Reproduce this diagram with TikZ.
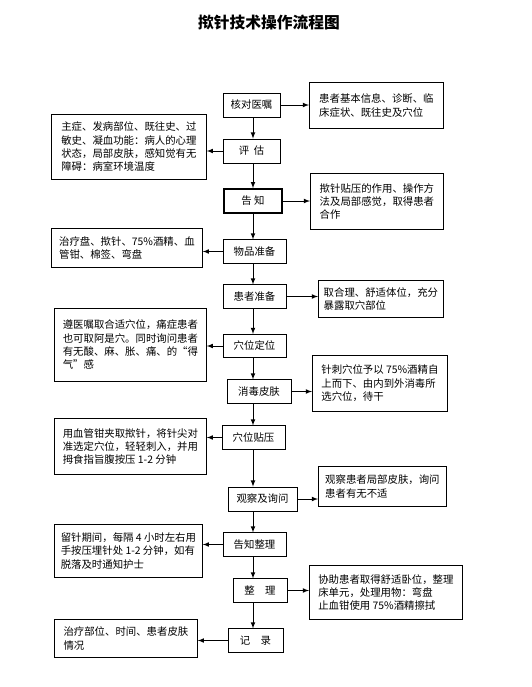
\documentclass[tikz,border=0pt]{standalone}
\usepackage{fontspec}
\newfontfamily\cjk{Noto Sans CJK SC}
\usepackage{tikz}
\usetikzlibrary{arrows, positioning}

\begin{document}
\begin{tikzpicture}[x=0.75pt, y=-0.75pt,
        font=\cjk\fontsize{7.8}{10}\selectfont,
        stepbox/.style={draw, line width=0.6pt, inner sep=0pt, minimum height=17.5pt, align=center},
        notebox/.style={draw, line width=0.6pt, inner xsep=4pt, inner ysep=3pt, anchor=north west, align=left},
        arr/.style={-latex, line width=0.6pt}]
        \useasboundingbox (0,0) rectangle (532,687);

        % Title
        \node[font=\cjk\bfseries\fontsize{11.8}{14}\selectfont] (title) at (269,23) {揿针技术操作流程图};

        % Main steps
        \coordinate (spine) at (253,0);
        \node[stepbox, minimum width=42.75pt, minimum height=18pt] (hedui) at (251.5,105) {核对医嘱};
        \node[stepbox, minimum width=42.75pt, minimum height=18pt] (pinggu) at (251.5,151) {评\ \ 估};
        \node[stepbox, minimum width=43.5pt, minimum height=18pt, line width=1.3pt] (gaozhi) at (253,201) {告\ 知};
        \node[stepbox, minimum width=47.25pt] (wupin) at (254.5,251.5) {物品准备};
        \node[stepbox, minimum width=47.25pt] (huanzhe) at (254.5,296.5) {患者准备};
        \node[stepbox, minimum width=47.25pt] (xuewei) at (254.5,346) {穴位定位};
        \node[stepbox, minimum width=48pt] (xiaodu) at (259,391.5) {消毒皮肤};
        \node[stepbox, minimum width=47.25pt] (tieya) at (253.5,437.5) {穴位贴压};
        \node[stepbox, minimum width=51.75pt, minimum height=18pt] (guancha) at (262.5,499) {观察及询问};
        \node[stepbox, minimum width=47.25pt] (gzzl) at (254.5,544.5) {告知整理};
        \node[stepbox, minimum width=40.5pt] (zhengli) at (260,590.5) {整\quad 理};
        \node[stepbox, minimum width=41.25pt] (jilu) at (255.5,640.5) {记\quad 录};

        % Notes on the left
        \node[notebox, minimum width=116.25pt, minimum height=48.75pt] (pinggu-note) at (51,114)
            {主症、发病部位、既往史、过\\敏史、凝血功能：病人的心理\\状态，局部皮肤，感知觉有无\\障碍：病室环境温度};
        \node[notebox, minimum width=113.25pt, minimum height=29.25pt] (wupin-note) at (51,228)
            {治疗盘、揿针、75\%酒精、血\\管钳、棉签、弯盘};
        \node[notebox, minimum width=114pt, minimum height=54.75pt] (xuewei-note) at (54,308)
            {遵医嘱取合适穴位，痛症患者\\也可取阿是穴。同时询问患者\\有无酸、麻、胀、痛、的“得\\气”感};
        \node[notebox, minimum width=114pt, minimum height=42pt] (tieya-note) at (54,418)
            {用血管钳夹取揿针，将针尖对\\准选定穴位，轻轻刺入，并用\\拇食指旨腹按压 1-2 分钟};
        \node[notebox, minimum width=111pt, minimum height=39.75pt] (gzzl-note) at (54,524)
            {留针期间，每隔 4 小时左右用\\手按压埋针处 1-2 分钟，如有\\脱落及时通知护士};
        \node[notebox, minimum width=107.25pt, minimum height=28.5pt] (jilu-note) at (54,619)
            {治疗部位、时间、患者皮肤\\情况};

        % Notes on the right
        \node[notebox, minimum width=100.5pt, minimum height=34.5pt] (hedui-note) at (309,82)
            {患者基本信息、诊断、临\\床症状、既往史及穴位};
        \node[notebox, minimum width=99.75pt, minimum height=42pt] (gaozhi-note) at (310,173)
            {揿针贴压的作用、操作方\\法及局部感觉，取得患者\\合作};
        \node[notebox, minimum width=93.75pt, minimum height=27.75pt] (huanzhe-note) at (318,280)
            {取合理、舒适体位，充分\\暴露取穴部位};
        \node[notebox, minimum width=101.25pt, minimum height=42pt] (xiaodu-note) at (312,355)
            {针刺穴位予以 75\%酒精自\\上而下、由内到外消毒所\\选穴位，待干};
        \node[notebox, minimum width=96pt, minimum height=30pt] (guancha-note) at (318,466)
            {观察患者局部皮肤，询问\\患者有无不适};
        \node[notebox, minimum width=114.75pt, minimum height=40.5pt] (zhengli-note) at (309,565)
            {协助患者取得舒适卧位，整理\\床单元，处理用物：弯盘\\止血钳使用 75\%酒精擦拭};

        % Down the middle
        \draw[arr] (hedui.south -| spine) -- (pinggu.north -| spine);
        \draw[arr] (pinggu.south -| spine) -- (gaozhi.north -| spine);
        \draw[arr] (gaozhi.south -| spine) -- (wupin.north -| spine);
        \draw[arr] (wupin.south -| spine) -- (huanzhe.north -| spine);
        \draw[arr] (huanzhe.south -| spine) -- (xuewei.north -| spine);
        \draw[arr] (xuewei.south -| spine) -- (xiaodu.north -| spine);
        \draw[arr] (xiaodu.south -| spine) -- (tieya.north -| spine);
        \draw[arr] (tieya.south -| spine) -- (guancha.north -| spine);
        \draw[arr] (guancha.south -| spine) -- (gzzl.north -| spine);
        \draw[arr] (gzzl.south -| spine) -- (zhengli.north -| spine);
        \draw[arr] (zhengli.south -| spine) -- (jilu.north -| spine);

        % Out to the notes
        \draw[arr] (hedui.east) -- (hedui.east -| hedui-note.west);
        \draw[arr] (pinggu.west) -- (pinggu.west -| pinggu-note.east);
        \draw[arr] (gaozhi.east) -- (gaozhi.east -| gaozhi-note.west);
        \draw[arr] (wupin.west) -- (wupin.west -| wupin-note.east);
        \draw[arr] (huanzhe.east) -- (huanzhe.east -| huanzhe-note.west);
        \draw[arr] (xuewei.west) -- (xuewei.west -| xuewei-note.east);
        \draw[arr] (xiaodu.east) -- (xiaodu.east -| xiaodu-note.west);
        \draw[arr] (tieya.west) -- (tieya.west -| tieya-note.east);
        \draw[arr] (guancha.east) -- (guancha.east -| guancha-note.west);
        \draw[arr] (gzzl.west) -- (gzzl.west -| gzzl-note.east);
        \draw[arr] (zhengli.east) -- (zhengli.east -| zhengli-note.west);
        \draw[arr] (jilu.west) -- (jilu.west -| jilu-note.east);
    \end{tikzpicture}
\end{document}
